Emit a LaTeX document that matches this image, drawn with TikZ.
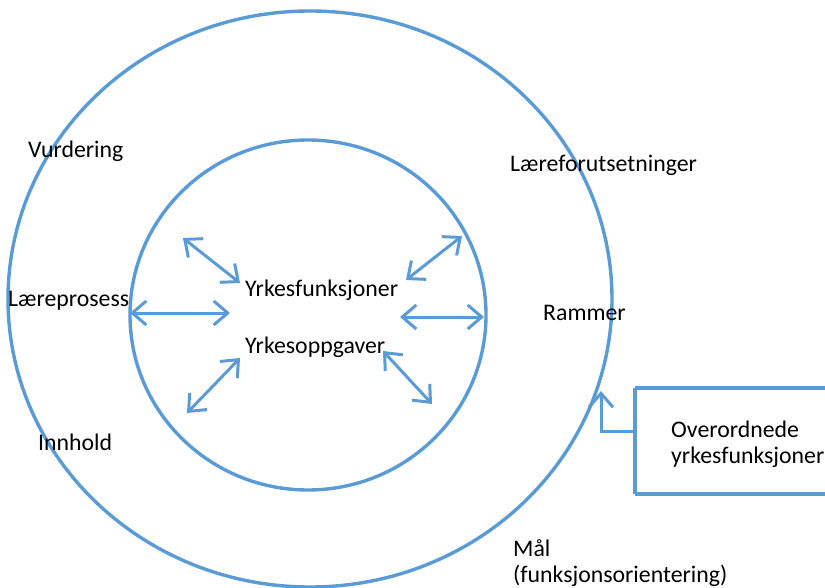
\documentclass[tikz,border=0pt]{standalone}
\usepackage{fontspec}
\setmainfont{Carlito}
\usetikzlibrary{arrows.meta}
\definecolor{ob}{HTML}{5B9BD5}
\tikzset{
  ring/.style={draw=ob, line width=3.4pt},
  dbl/.style={draw=ob, line width=3pt, {Straight Barb[length=14pt,width=24pt]}-{Straight Barb[length=14pt,width=24pt]}},
  lbl/.style={inner sep=0pt, anchor=base west, font=\fontsize{23.8}{28}\selectfont, text=black},
}
\begin{document}
\begin{tikzpicture}[x=1pt,y=-1pt]
\useasboundingbox (0,0) rectangle (825,588);
% rings
\draw[ring] (310,299) ellipse [x radius=302pt, y radius=288pt];
\draw[ring] (308,315) ellipse [x radius=178pt, y radius=175pt];
% labels
\node[lbl] (vur) at (28,158) {Vurdering};
\node[lbl] (lfo) at (510,172) {Læreforutsetninger};
\node[lbl] (lpr) at (8,306) {Læreprosess};
\node[lbl] (ram) at (543,320) {Rammer};
\node[lbl] (inn) at (38,450) {Innhold};
\node[lbl] (yf) at (245,297) {Yrkesfunksjoner};
\node[lbl] (yo) at (245,353) {Yrkesoppgaver};
\node[lbl] (mal) at (513,556) {Mål};
\node[lbl] (fo) at (513,582) {(funksjonsorientering)};
% arrows
\coordinate (a1s) at (183,238); \coordinate (a1e) at (240,283);
\coordinate (a2s) at (130,313); \coordinate (a2e) at (230,313);
\coordinate (a3s) at (240,358); \coordinate (a3e) at (187,413);
\coordinate (a4s) at (462,236); \coordinate (a4e) at (406,280);
\coordinate (a5s) at (400,317); \coordinate (a5e) at (484,317);
\coordinate (a6s) at (383,351); \coordinate (a6e) at (432,404);
\draw[dbl] (a1s) -- (a1e);
\draw[dbl] (a2s) -- (a2e);
\draw[dbl] (a3s) -- (a3e);
\draw[dbl] (a4s) -- (a4e);
\draw[dbl] (a5s) -- (a5e);
\draw[dbl] (a6s) -- (a6e);
% box
\draw[ring] (635,388) -- (840,388);
\draw[ring] (635,494) -- (840,494);
\draw[ring] (635,388) -- (635,494);
\coordinate (boxl) at (635,431);
\coordinate (tip) at (601,391);
\node[lbl] (ov) at (671,437) {Overordnede};
\node[lbl] (yk) at (671,463) {yrkesfunksjoner};
\draw[draw=ob, line width=3pt, -{Straight Barb[length=14pt,width=24pt]}] (boxl) -- (601,431) -- (tip);
\end{tikzpicture}
\end{document}
